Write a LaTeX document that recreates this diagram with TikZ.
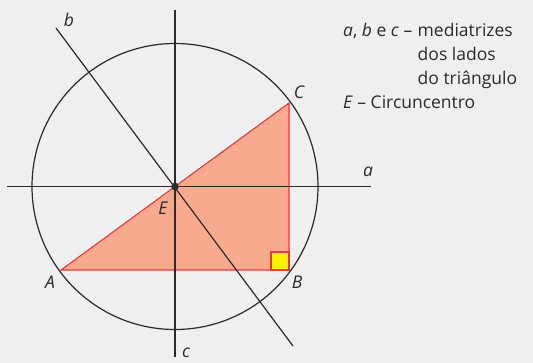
\documentclass[tikz,border=0pt]{standalone}
\usepackage{fontspec}
\setmainfont{Open Sans}
\definecolor{bg}{HTML}{EEEFEE}
\definecolor{ln}{HTML}{2A2A2A}
\definecolor{tri}{HTML}{F8AA8F}
\definecolor{trib}{HTML}{E8383A}
\definecolor{sq}{HTML}{FFF200}
\begin{document}
\begin{tikzpicture}[x=1pt,y=-1pt,
  axis/.style={draw=ln,line width=1.2pt},
  lbl/.style={font=\fontsize{17.5}{20}\selectfont\itshape,text=ln,inner sep=0pt},
  txt/.style={font=\fontsize{17.5}{20}\selectfont,text=ln,inner sep=0pt,anchor=base west}]
\fill[bg] (0,0) rectangle (533,363);
\useasboundingbox (0,0) rectangle (533,363);
\coordinate (E) at (175,186.5);
\coordinate (A) at (61,270);
\coordinate (B) at (289,270);
\coordinate (C) at (289,103);
% triangle
\filldraw[fill=tri,draw=trib,line width=1.1pt,line join=miter] (A) -- (B) -- (C) -- cycle;
\filldraw[fill=sq,draw=trib,line width=1.1pt] (B) rectangle ++(-18,-18);
% circle
\draw[ln,line width=1.2pt] (E) circle[radius=143];
% mediatrices
\coordinate (a1) at (7,186.5);
\coordinate (a2) at (371,186.5);
\coordinate (c1) at (175,10);
\coordinate (c2) at (175,357);
\coordinate (b1) at (56,28);
\coordinate (b2) at (293,346);
\draw[axis] (a1) -- (a2);
\draw[axis] (c1) -- (c2);
\draw[axis] (b1) -- (b2);
\fill[ln] (E) circle[radius=3.8];
% labels
\node[lbl] (la) at (368,172) {a};
\node[lbl] (lb) at (69,20) {b};
\node[lbl] (lc) at (186,353) {c};
\node[lbl] (lA) at (50,282) {A};
\node[lbl] (lB) at (297,282) {B};
\node[lbl] (lC) at (299,92) {C};
\node[lbl] (lE) at (163,208) {E};
% legend
\node[txt] (t1) at (343,37) {\textit{a}, \textit{b} e \textit{c} –};
\node[txt] (t1b) at ([xshift=5pt]t1.base east) {mediatrizes};
\node[txt] (t2) at (t1b.base west |- 0,61) {dos lados};
\node[txt] (t3) at (t1b.base west |- 0,85) {do triângulo};
\node[txt] (t4) at (343,109) {\textit{E} – Circuncentro};
\end{tikzpicture}
\end{document}
